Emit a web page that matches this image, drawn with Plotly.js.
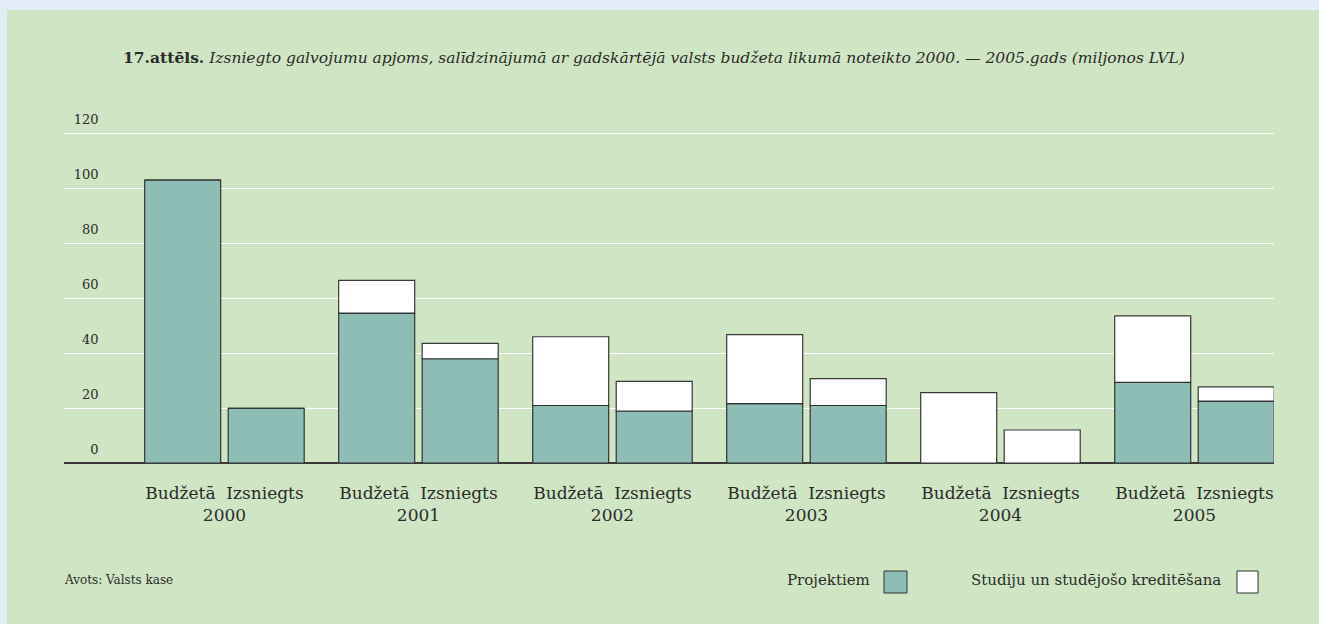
<!DOCTYPE html>
<html>
<head>
<meta charset="utf-8">
<script src="https://cdn.plot.ly/plotly-3.0.1.min.js"></script>
<style>
  html, body { margin: 0; padding: 0; background: #e1ecf6; width: 1319px; height: 624px; overflow: hidden; }
  #chart { position: absolute; left: 7px; top: 10px; width: 1312px; height: 614px; }
</style>
</head>
<body>
<div id="chart"></div>
<script>
// ---- data ----
const years = ['2000', '2001', '2002', '2003', '2004', '2005'];
const kinds = ['Budžetā', 'Izsniegts'];
const seriesNames = ['Projektiem', 'Studiju un studējošo kreditēšana'];
// Projektiem
const projBudzeta = [102.9, 54.5, 20.9, 21.6, 0, 29.3];
const projIzsniegts = [19.9, 37.9, 18.9, 20.9, 0, 22.5];
// Studiju un studējošo kreditēšana
const studBudzeta = [0, 11.9, 25.0, 25.1, 25.6, 24.2];
const studIzsniegts = [0, 5.6, 10.8, 9.8, 12.0, 5.2];
const yTicks = [0, 20, 40, 60, 80, 100, 120];
const titleBold = '17.attēls.';
const titleRest = 'Izsniegto galvojumu apjoms, salīdzinājumā ar gadskārtējā valsts budžeta likumā noteikto 2000. — 2005.gads (miljonos LVL)';
const sourceText = 'Avots: Valsts kase';

// ---- style ----
const FONT = 'DejaVu Serif, serif';
const TXT = '#2b2b2b';
const TEAL = '#8ebdb6';
const WHITE = '#ffffff';
const LINE = { color: 'rgba(35,35,35,0.9)', width: 1.2 };

function barTrace(name, y, base, group, color) {
  return {
    type: 'bar', x: years, y: y, base: base, offsetgroup: group,
    name: name, marker: { color: color, line: LINE },
    hoverinfo: 'skip', showlegend: false
  };
}

const traces = [
  barTrace(seriesNames[0], projBudzeta, undefined, 'B', TEAL),
  barTrace(seriesNames[1], studBudzeta, projBudzeta, 'B', WHITE),
  barTrace(seriesNames[0], projIzsniegts, undefined, 'I', TEAL),
  barTrace(seriesNames[1], studIzsniegts, projIzsniegts, 'I', WHITE)
];

const tickText = years.map(y => kinds[0] + '\u00a0\u00a0' + kinds[1] + '<br>' + y);

// legend position (paper coords of plot area, plot area = y 127..463)
const PH = 336;
const py = v => (463 - v) / PH;
const legY = py(580);

const layout = {
  width: 1312, height: 614,
  margin: { l: 57, r: 45, t: 117, b: 161, pad: 0 },
  paper_bgcolor: '#cfe5c3',
  plot_bgcolor: 'rgba(0,0,0,0)',
  font: { family: FONT, color: TXT },
  barmode: 'group',
  bargap: 0.139,
  bargroupgap: 0.09,
  title: {
    text: '<b>' + titleBold + '</b> <i>' + titleRest + '</i>',
    font: { family: FONT, size: 15.5, color: TXT },
    xref: 'paper', x: 0.0488, xanchor: 'left',
    yref: 'container', y: 0.9218, yanchor: 'middle'
  },
  xaxis: {
    type: 'category', categoryarray: years, tickvals: years, ticktext: tickText,
    range: [-0.827, 5.41], showgrid: false, zeroline: false, showline: false,
    ticks: '', tickfont: { family: FONT, size: 17, color: TXT },
    ticklabelstandoff: 18, fixedrange: true
  },
  yaxis: {
    range: [0, 122.18], tickvals: yTicks, ticks: '',
    anchor: 'free', position: 0.0285,
    showgrid: true, gridcolor: '#ffffff', gridwidth: 1,
    zeroline: true, zerolinecolor: '#3a3a3a', zerolinewidth: 1.3,
    showline: false, ticklabelshift: -14,
    tickfont: { family: FONT, size: 13, color: TXT }, fixedrange: true
  },
  annotations: [
    { text: sourceText, xref: 'paper', yref: 'paper', x: -0.0017, y: legY, xanchor: 'left', yanchor: 'middle', showarrow: false, font: { family: FONT, size: 12, color: TXT } },
    { text: seriesNames[0], xref: 'paper', yref: 'paper', x: 0.6678, y: legY, xanchor: 'right', yanchor: 'middle', showarrow: false, font: { family: FONT, size: 15, color: TXT } },
    { text: seriesNames[1], xref: 'paper', yref: 'paper', x: 0.9579, y: legY, xanchor: 'right', yanchor: 'middle', showarrow: false, font: { family: FONT, size: 15, color: TXT } }
  ],
  shapes: [
    { type: 'rect', xref: 'paper', yref: 'paper', x0: 0.6777, x1: 0.6967, y0: py(593), y1: py(571), fillcolor: TEAL, line: { color: '#333', width: 1 } },
    { type: 'rect', xref: 'paper', yref: 'paper', x0: 0.9694, x1: 0.9868, y0: py(593), y1: py(571), fillcolor: WHITE, line: { color: '#333', width: 1 } }
  ]
};

Plotly.newPlot('chart', traces, layout, { displayModeBar: false, staticPlot: true });
</script>
</body>
</html>
